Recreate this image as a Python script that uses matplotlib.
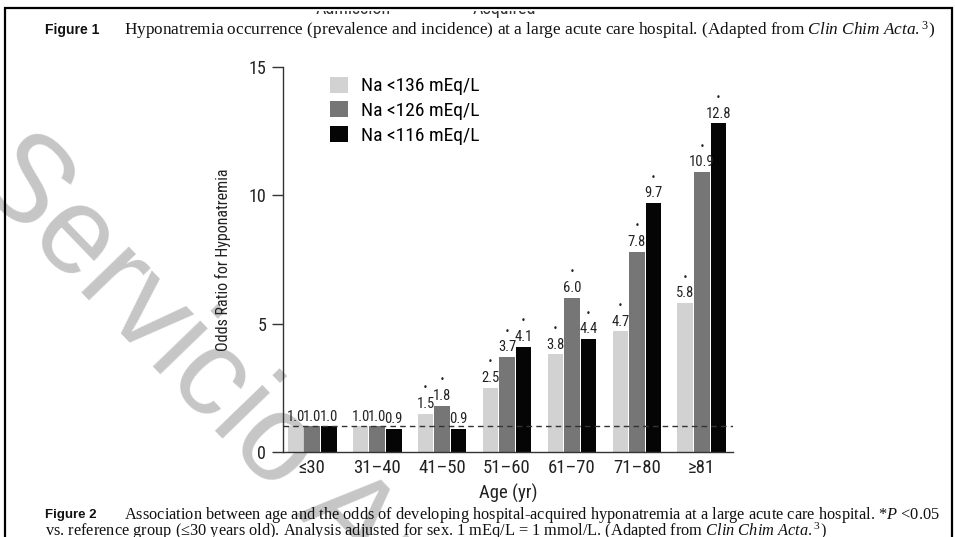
import matplotlib
matplotlib.use("Agg")
import matplotlib.pyplot as plt
import numpy as np
from matplotlib import font_manager
from matplotlib.font_manager import FontProperties
from matplotlib.patches import Patch, Rectangle

# datos
ages = ['≤30', '31–40', '41–50', '51–60', '61–70', '71–80', '≥81']
na136 = [1.0, 1.0, 1.5, 2.5, 3.8, 4.7, 5.8]
na126 = [1.0, 1.0, 1.8, 3.7, 6.0, 7.8, 10.9]
na116 = [1.0, 0.9, 0.9, 4.1, 4.4, 9.7, 12.8]
sig136 = [False, False, True, True, True, True, True]
sig126 = [False, False, True, True, True, True, True]
sig116 = [False, False, False, True, True, True, True]
labels = ['Na <136 mEq/L', 'Na <126 mEq/L', 'Na <116 mEq/L']
colors = ['#d2d2d2', '#767676', '#050505']

# buscar una fuente estrecha (condensed) si la hay
cands = []
for f in font_manager.fontManager.ttflist:
    nm = f.name + ' ' + str(f.fname)
    cond = ('Narrow' in nm or 'Condensed' in nm or 'condensed' in str(f.stretch))
    if cond and f.style == 'normal' and f.weight in (400, 'normal', 'regular', 'book'):
        rank = 0 if 'Liberation' in nm else 1 if 'Roboto' in nm else 2 if 'DejaVu' in nm else 3
        if 'Mono' in nm or 'Serif' in nm or 'Semi' in nm:
            rank += 5
        cands.append((rank, f.fname))
cands.sort()
if cands:
    fp = FontProperties(fname=cands[0][1])
else:
    fp = FontProperties(family='Liberation Sans')

def F(size):
    p = fp.copy()
    p.set_size(size)
    return p

plt.rcParams['mathtext.fontset'] = 'custom'
plt.rcParams['mathtext.rm'] = 'Liberation Serif'
plt.rcParams['mathtext.it'] = 'Liberation Serif:italic'

W, H = 955, 537
fig = plt.figure(figsize=(W / 100, H / 100), dpi=100)
fig.patch.set_facecolor('white')

def fx(px):
    return px / W

def fy(py):
    return 1 - py / H

# marca de agua
fig.text(fx(-30), fy(177), 'Servicio Andaluz de Salud', fontsize=89, family='Liberation Sans',
         color='#c6c6c6', rotation=-46, rotation_mode='anchor', ha='left', va='baseline', zorder=-5)

ax = fig.add_axes([fx(283), fy(452), fx(733) - fx(283), fy(67) - fy(452)])
ax.set_facecolor('none')

x = np.arange(len(ages))
width = 0.24
off = 0.255
series = [na136, na126, na116]
sigs = [sig136, sig126, sig116]
for i, (vals, sig) in enumerate(zip(series, sigs)):
    pos = x + (i - 1) * off
    ax.bar(pos, vals, width, color=colors[i], edgecolor='none', zorder=2)
    for xp, v, s in zip(pos, vals, sig):
        ax.annotate(f'{v:.1f}', (xp, v), xytext=(0, 2), textcoords='offset points',
                    ha='center', va='bottom', fontproperties=F(10.5), color='#222222')
        if s:
            ax.annotate('•', (xp, v), xytext=(0, 15.5), textcoords='offset points',
                        ha='center', va='bottom', fontsize=6, color='#222222')

ax.axhline(1.0, color='#333333', ls=(0, (4, 3)), lw=1, zorder=3)

ax.set_xlim(-0.45, 6.48)
ax.set_ylim(0, 15)
ax.set_yticks([0, 5, 10, 15])
ax.set_yticklabels(['0', '5', '10', '15'], fontproperties=F(13))
ax.set_xticks(x)
ax.set_xticklabels(ages, fontproperties=F(13.5))
ax.tick_params(axis='x', length=0, pad=5, colors='#222222')
ax.tick_params(axis='y', length=8, width=1, pad=4, colors='#333333', labelcolor='#222222')
for sp in ['top', 'right']:
    ax.spines[sp].set_visible(False)
for sp in ['left', 'bottom']:
    ax.spines[sp].set_color('#333333')
    ax.spines[sp].set_linewidth(1)

ax.set_ylabel('Odds Ratio for Hyponatremia', fontproperties=F(11.5), color='#222222')
ax.yaxis.set_label_coords(-0.116, 0.5)
ax.set_xlabel('Age (yr)', fontproperties=F(13.5), color='#222222')
ax.xaxis.set_label_coords(0.5, -0.083)

handles = [Patch(facecolor=c, edgecolor='none') for c in colors]
ax.legend(handles, labels, loc='upper left', bbox_to_anchor=(0.105, 0.975), frameon=False,
          prop=F(14), handlelength=0.9, handleheight=0.9, handletextpad=0.7,
          labelspacing=0.3, borderpad=0, borderaxespad=0)

# textos de las figuras
renderer = fig.canvas.get_renderer()

def fit(t, target):
    w = t.get_window_extent(renderer).width
    t.set_fontsize(t.get_fontsize() * target / w)
    return t.get_fontsize()

bold = dict(family='Liberation Sans', weight='bold', color='#111111', va='center', ha='left')
serif = dict(family='Liberation Serif', color='#111111', va='center', ha='left')

# restos de texto cortados arriba (Figure 1)
fig.text(fx(353), fy(13.5), 'Admission', fontproperties=F(13), color='#333333',
         ha='center', va='baseline', zorder=1)
fig.text(fx(504), fy(13.5), 'Acquired', fontproperties=F(13), color='#333333',
         ha='center', va='baseline', zorder=1)
fig.add_artist(Rectangle((0, fy(10.5)), 1, 1, transform=fig.transFigure,
                         facecolor='white', edgecolor='none', zorder=2))

t = fig.text(fx(45), fy(30), 'Figure 1', fontsize=10, **bold)
fit(t, 55)
t = fig.text(fx(124), fy(30), 'Hyponatremia occurrence (prevalence and incidence) at a large acute care '
             r'hospital. (Adapted from $\mathit{Clin\ Chim\ Acta.}^{3}$)', fontsize=10, **serif)
fit(t, 811)
t = fig.text(fx(45), fy(515), 'Figure 2', fontsize=9.5, **bold)
t = fig.text(fx(124), fy(515), 'Association between age and the odds of developing hospital-acquired '
             r'hyponatremia at a large acute care hospital. *$\mathit{P}$ <0.05', fontsize=10, **serif)
fs = fit(t, 815)
fig.text(fx(45), fy(531.5), 'vs. reference group (≤30 years old). Analysis adjusted for sex. '
         r'1 mEq/L = 1 mmol/L. (Adapted from $\mathit{Clin\ Chim\ Acta.}^{3}$)', fontsize=fs, **serif)

# marco
fig.add_artist(Rectangle((fx(5), -0.1), fx(952) - fx(5), fy(8) + 0.1, transform=fig.transFigure,
                         fill=False, edgecolor='black', linewidth=1.6, zorder=10))

fig.savefig('out.png', dpi=100)
